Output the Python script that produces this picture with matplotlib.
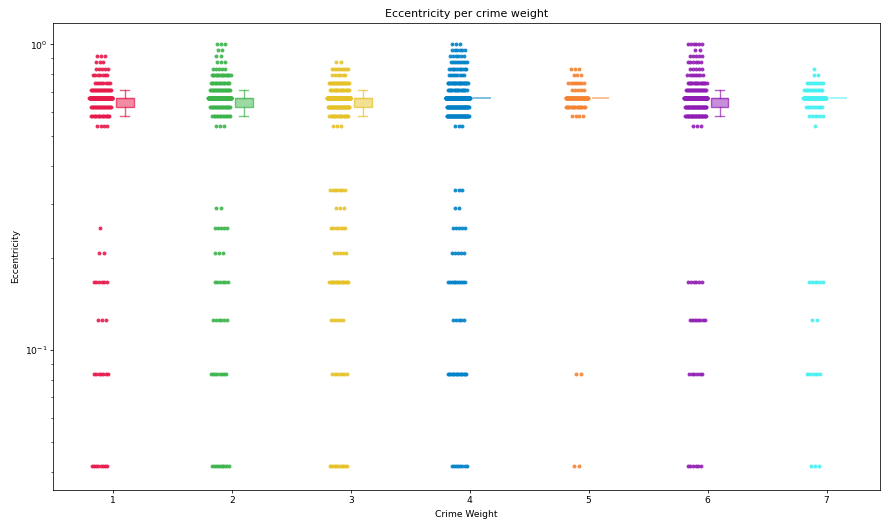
import numpy as np
import matplotlib.pyplot as plt
from matplotlib.colors import to_rgb

weights = [1, 2, 3, 4, 5, 6, 7]
colors = ["#e6194b", "#3cb44b", "#e6c229", "#0082c8", "#f58231", "#911eb4", "#46f0f0"]

# eccentricity only takes the values k/24, k = 1..24
levels = [k / 24 for k in range(1, 25)]

# number of points at each eccentricity level (k = 1..24) for every crime weight
#            1   2  3   4  5  6  7  8  9 10 11 12 13  14  15   16  17  18  19  20  21  22  23  24
counts_w1 = [8,  7, 3,  6, 2, 1, 0, 0, 0, 0, 0, 0, 4, 15, 21, 106, 21,  8,  7,  5,  3,  3,  0,  0]
counts_w2 = [10, 8, 6,  6, 3, 5, 2, 0, 0, 0, 0, 0, 3, 13, 21, 141, 21, 15, 16,  5,  3,  2,  2,  3]
counts_w3 = [11, 7, 5, 16, 5, 7, 3, 7, 0, 0, 0, 0, 3, 17, 35, 189, 17, 21,  6,  9,  2,  0,  0,  0]
counts_w4 = [8, 15, 5, 10, 5, 5, 2, 3, 0, 0, 0, 0, 3, 45, 45, 389, 17, 25,  8, 11,  9,  6,  6,  3]
counts_w5 = [2,  2, 0,  0, 0, 0, 0, 0, 0, 0, 0, 0, 0,  4, 17,  66,  5,  8,  3,  3,  0,  0,  0,  0]
counts_w6 = [6,  6, 8,  6, 0, 0, 0, 0, 0, 0, 0, 0, 3, 29, 35, 157, 21, 17,  8,  5,  6,  5,  2,  6]
counts_w7 = [3,  6, 2,  6, 0, 0, 0, 0, 0, 0, 0, 0, 1,  6, 10,  86, 13,  9,  2,  1,  0,  0,  0,  0]

all_counts = [counts_w1, counts_w2, counts_w3, counts_w4, counts_w5, counts_w6, counts_w7]

plt.rcParams['font.family'] = 'DejaVu Sans'

fig = plt.figure(figsize=(8.81, 5.25), dpi=100)
ax = fig.add_axes([0.0607, 0.0667, 0.938, 0.8895])

for i, (w, counts, color) in enumerate(zip(weights, all_counts, colors)):
    values = np.repeat(levels, counts)

    # deterministic jitter: points spread evenly, strip sits left of the tick;
    # a row with few points covers less of the strip width
    xs = []
    for j, n in enumerate(counts):
        u = (np.arange(n) + 0.5) / max(n, 1) - 0.5
        spread = 0.2 * (n - 1) / (n + 3)
        shift = ((j * 7 + i * 3) % 5 - 2) * 0.006
        xs.append(w - 0.1 + shift * (n < 20) + u * spread * n / max(n - 1, 1))
    xs = np.concatenate(xs)
    ax.scatter(xs, values, s=8, color=color, alpha=0.9, linewidths=0, zorder=2)

    # box plot right of the tick
    bp = ax.boxplot([values], positions=[w + 0.1], widths=0.15, patch_artist=True,
                    showfliers=False, manage_ticks=False, zorder=3)
    rgb = to_rgb(color)
    for box in bp['boxes']:
        box.set_facecolor((*rgb, 0.5))
        box.set_edgecolor((*rgb, 0.7))
        box.set_linewidth(1.0)
    for line in bp['whiskers'] + bp['caps']:
        line.set_color(color)
        line.set_alpha(0.7)
        line.set_linewidth(1.0)
    for line in bp['medians']:
        line.set_color(color)
        line.set_alpha(0.3)
        line.set_linewidth(1.0)
    # box collapsed to a single value: only keep the flat box outline
    wlo, whi = bp['whiskers'][0].get_ydata()[1], bp['whiskers'][1].get_ydata()[1]
    if wlo == whi:
        for line in bp['caps'] + bp['medians'] + bp['whiskers']:
            line.set_visible(False)
        bp['boxes'][0].set_edgecolor((*rgb, 0.55))
        bp['boxes'][0].set_linewidth(1.3)

ax.set_yscale('log')
ax.set_ylim(0.0348, 1.175)
ax.set_xlim(0.501, 7.448)
ax.set_xticks(weights)
ax.set_xticklabels([str(w) for w in weights])

ax.set_title("Eccentricity per crime weight", fontsize=7.9, pad=4)
ax.set_xlabel("Crime Weight", fontsize=6.6, labelpad=3)
ax.set_ylabel("Eccentricity", fontsize=6.6, labelpad=3)
ax.tick_params(axis='both', which='major', labelsize=6.6, length=2.3, width=0.55, pad=2.3)
ax.tick_params(axis='both', which='minor', length=1.3, width=0.45)
for spine in ax.spines.values():
    spine.set_linewidth(0.55)

fig.savefig("out.png", dpi=100)
